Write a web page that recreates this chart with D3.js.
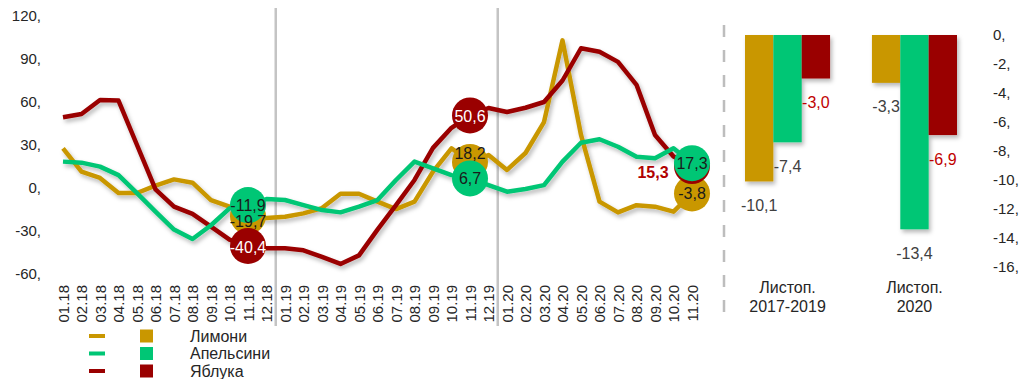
<!DOCTYPE html>
<html>
<head>
<meta charset="utf-8">
<script src="https://cdn.jsdelivr.net/npm/d3@7"></script>
<style>
  body { margin: 0; background: #fff; }
  svg { display: block; font-family: "Liberation Sans", Arial, sans-serif; }
</style>
</head>
<body>
<svg id="chart" width="1021" height="379"></svg>
<script>
// months on the line chart
const months = [
  '01.18', '02.18', '03.18', '04.18', '05.18', '06.18', '07.18', '08.18', '09.18', '10.18', '11.18', '12.18',
  '01.19', '02.19', '03.19', '04.19', '05.19', '06.19', '07.19', '08.19', '09.19', '10.19', '11.19', '12.19',
  '01.20', '02.20', '03.20', '04.20', '05.20', '06.20', '07.20', '08.20', '09.20', '10.20', '11.20'
];
const lemons = [27.7, 11.4, 7, -3.5, -3.5, 1.6, 6, 3.7, -8.4, -13, -19.7, -21,
  -20, -17.7, -14, -4, -4, -9.5, -14.7, -9.5, 11.4, 27.7, 18.2, 23,
  12.6, 24.4, 46, 103, 37, -9.5, -17, -12, -13, -16.5, -3.8];
const oranges = [18.4, 17.7, 14.9, 9, -3.5, -16.5, -29, -35.6, -26, -14.2, -11.9, -7.7,
  -8.4, -12, -15.4, -17, -13, -8.4, 5.6, 18.4, 13.7, 9, 6.7, 2,
  -2.6, -0.7, 2, 18.4, 31.6, 34, 28.8, 21.8, 20.7, 27.7, 17.3];
const apples = [49.3, 51.6, 61.4, 61, 30, -1, -13, -18, -27, -36, -40.4, -42,
  -42, -43.5, -48, -53, -47, -29, -12, 5.6, 28, 42, 50.6, 55.8,
  53, 56, 60, 75, 97.5, 95, 88, 72, 37, 22, 15.3];
const leftTicks = [-60, -30, 0, 30, 60, 90, 120];
const markedMonths = ['11.18', '11.19', '11.20'];

// bar chart (November)
const groups = ['Листоп.|2017-2019', 'Листоп.|2020'];
const lemonBars = [-10.1, -3.3];
const orangeBars = [-7.4, -13.4];
const appleBars = [-3.0, -6.9];
const rightTicks = [0, -2, -4, -6, -8, -10, -12, -14, -16];

const seriesNames = ['Лимони', 'Апельсини', 'Яблука'];
const colors = { 'Лимони': '#c99700', 'Апельсини': '#00c675', 'Яблука': '#9a0000' };

const fmt = v => d3.format('.1f')(v).replace('.', ',').replace('\u2212', '-');

const svg = d3.select('#chart');

const defs = svg.append('defs');
defs.append('filter').attr('id', 'shadow')
  .attr('x', '-20%').attr('y', '-20%').attr('width', '140%').attr('height', '140%')
  .append('feDropShadow')
  .attr('dx', 2).attr('dy', 3).attr('stdDeviation', 2)
  .attr('flood-color', '#000').attr('flood-opacity', 0.28);

// ---------- line chart ----------
const x = d3.scalePoint().domain(months).range([63, 692]);
const y = d3.scaleLinear().domain([-60, 120]).range([274, 16]);

// year separators
[11, 23].forEach(i => {
  const sx = (x(months[i]) + x(months[i + 1])) / 2;
  svg.append('line')
    .attr('x1', sx).attr('x2', sx).attr('y1', 8).attr('y2', 326)
    .attr('stroke', '#c4c4c4').attr('stroke-width', 2.5);
});

// left axis labels
const yAxis = svg.append('g').attr('transform', 'translate(41,0)')
  .call(d3.axisLeft(y).tickValues(leftTicks).tickSize(0).tickPadding(0).tickFormat(d => d + ','));
yAxis.select('.domain').remove();
yAxis.selectAll('text').attr('font-size', 15).attr('fill', '#262626').attr('font-family', null);

// x labels
const xAxis = svg.append('g').attr('transform', 'translate(0,285)')
  .call(d3.axisBottom(x).tickSize(0).tickPadding(0));
xAxis.select('.domain').remove();
xAxis.selectAll('text')
  .attr('font-size', 15).attr('fill', '#262626').attr('font-family', null)
  .attr('text-anchor', 'end')
  .attr('transform', 'rotate(-90)')
  .attr('x', 0).attr('y', 0).attr('dy', '0.35em');

const lineSeries = [
  { name: 'Лимони', values: lemons },
  { name: 'Яблука', values: apples },
  { name: 'Апельсини', values: oranges }
];

const line = d3.line().x((d, i) => x(months[i])).y(d => y(d));

svg.append('g').attr('filter', 'url(#shadow)')
  .selectAll('path').data(lineSeries).enter().append('path')
  .attr('d', d => line(d.values))
  .attr('fill', 'none')
  .attr('stroke', d => colors[d.name])
  .attr('stroke-width', 4.5)
  .attr('stroke-linejoin', 'round');

// marker circles
const marks = [];
lineSeries.forEach(s => {
  markedMonths.forEach(m => {
    marks.push({ name: s.name, month: m, value: s.values[months.indexOf(m)] });
  });
});

svg.append('g').selectAll('circle').data(marks).enter().append('circle')
  .attr('cx', d => x(d.month))
  .attr('cy', d => y(d.value))
  .attr('r', 18)
  .attr('fill', d => colors[d.name]);

// marker labels
const labelStyle = (d) => {
  if (d.name === 'Яблука' && d.month === '11.20')
    return { dx: -39, dy: 6, fill: '#b00000', weight: 'bold' };
  if (d.name === 'Яблука')
    return { dx: 0, dy: 1, fill: '#ffffff', weight: 'normal' };
  if (d.name === 'Лимони' && d.month === '11.19')
    return { dx: 0, dy: -9, fill: '#1a1a1a', weight: 'normal' };
  if (d.name === 'Лимони' && d.month === '11.18')
    return { dx: 0, dy: 5, fill: '#1a1a1a', weight: 'normal' };
  return { dx: 0, dy: 0, fill: '#1a1a1a', weight: 'normal' };
};

svg.append('g').selectAll('text').data(marks).enter().append('text')
  .attr('x', d => x(d.month) + labelStyle(d).dx)
  .attr('y', d => y(d.value) + labelStyle(d).dy)
  .attr('dy', '0.35em')
  .attr('text-anchor', 'middle')
  .attr('font-size', 16)
  .attr('font-weight', d => labelStyle(d).weight)
  .attr('fill', d => labelStyle(d).fill)
  .text(d => fmt(d.value));

// dashed divider
svg.append('line')
  .attr('x1', 724).attr('x2', 724).attr('y1', 25).attr('y2', 315)
  .attr('stroke', '#bdbdbd').attr('stroke-width', 2.5)
  .attr('stroke-dasharray', '12,13');

// ---------- bar chart ----------
const barData = groups.map((g, i) => ({
  group: g,
  bars: [
    { name: 'Лимони', value: lemonBars[i] },
    { name: 'Апельсини', value: orangeBars[i] },
    { name: 'Яблука', value: appleBars[i] }
  ]
}));

const x0 = d3.scaleBand().domain(groups).range([745, 957]).paddingInner(0.33);
const x1 = d3.scaleBand().domain(seriesNames).range([0, x0.bandwidth()]);
const yb = d3.scaleLinear().domain([-16, 0]).range([267, 35]);

const rAxis = svg.append('g').attr('transform', 'translate(993,0)')
  .call(d3.axisRight(yb).tickValues(rightTicks).tickSize(0).tickPadding(0).tickFormat(d => d + ','));
rAxis.select('.domain').remove();
rAxis.selectAll('text').attr('font-size', 15).attr('fill', '#262626').attr('font-family', null);

const grp = svg.append('g').selectAll('g').data(barData).enter().append('g')
  .attr('transform', d => `translate(${x0(d.group)},0)`);

grp.append('g').attr('filter', 'url(#shadow)')
  .selectAll('rect').data(d => d.bars).enter().append('rect')
  .attr('x', d => x1(d.name))
  .attr('y', yb(0))
  .attr('width', x1.bandwidth())
  .attr('height', d => yb(d.value) - yb(0))
  .attr('fill', d => colors[d.name]);

grp.selectAll('text.val').data(d => d.bars).enter().append('text')
  .attr('class', 'val')
  .attr('x', d => x1(d.name) + x1.bandwidth() / 2)
  .attr('y', d => yb(d.value) + 24)
  .attr('dy', '0.35em')
  .attr('text-anchor', 'middle')
  .attr('font-size', 16)
  .attr('fill', d => d.name === 'Яблука' ? '#c00000' : '#404040')
  .text(d => fmt(d.value));

grp.append('text')
  .attr('x', x0.bandwidth() / 2)
  .attr('text-anchor', 'middle')
  .attr('font-size', 16)
  .attr('fill', '#262626')
  .selectAll('tspan').data(d => d.group.split('|')).enter().append('tspan')
  .attr('x', x0.bandwidth() / 2)
  .attr('y', (d, i) => 293 + i * 19)
  .text(d => d);

// ---------- legend ----------
const legend = svg.append('g').selectAll('g').data(seriesNames).enter().append('g')
  .attr('transform', (d, i) => `translate(0,${336 + i * 17.5})`);
legend.append('rect').attr('x', 89).attr('y', -2).attr('width', 16).attr('height', 4)
  .attr('fill', d => colors[d]);
legend.append('rect').attr('x', 140).attr('y', -6.5).attr('width', 13).attr('height', 13)
  .attr('fill', d => colors[d]);
legend.append('text').attr('x', 190).attr('y', 0).attr('dy', '0.35em')
  .attr('font-size', 16).attr('fill', '#262626')
  .text(d => d);
</script>
</body>
</html>
